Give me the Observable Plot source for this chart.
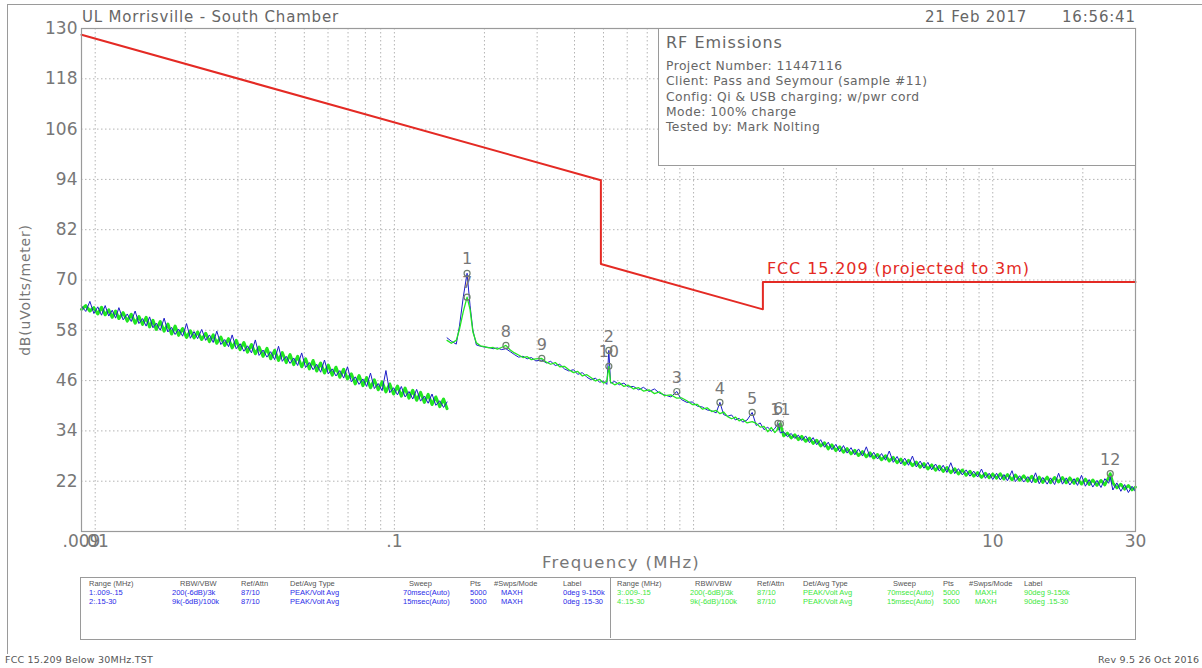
<!DOCTYPE html>
<html><head><meta charset="utf-8">
<script src="https://cdn.jsdelivr.net/npm/d3@7"></script>
<script src="https://cdn.jsdelivr.net/npm/@observablehq/plot@0.6"></script>
<style>
body{margin:0;background:#fff;}
#page{position:relative;width:1202px;height:668px;overflow:hidden;font-family:"DejaVu Sans",sans-serif;color:#666;background:#fff;}
.abs{position:absolute;white-space:nowrap;}
#chart{position:absolute;left:0;top:0;}
.tcell{position:absolute;white-space:nowrap;font-family:"Liberation Sans",sans-serif;font-size:7.5px;line-height:9px;}
</style></head><body><div id="page"><div id="chart"></div></div>
<script>
// ---------- data ----------
const freq1 = [0.009,0.0093,0.0096,0.0099,0.0102,0.0105,0.0108,0.0111,0.0114,0.0117,
0.012,0.0124,0.0128,0.0132,0.0136,0.014,0.0144,0.0148,0.0152,0.0156,
0.016,0.0165,0.017,0.0175,0.018,0.0185,0.019,0.0196,0.0202,0.0208,
0.0214,0.022,0.0227,0.0234,0.0241,0.0248,0.0255,0.0263,0.0271,0.0279,
0.0287,0.0296,0.0305,0.0314,0.0323,0.0333,0.0343,0.0353,0.0364,0.0375,
0.0386,0.0398,0.041,0.0422,0.0435,0.0448,0.0461,0.0475,0.049,0.0505,
0.052,0.0535,0.055,0.0567,0.0584,0.0601,0.062,0.0638,0.0657,0.0677,
0.0697,0.0718,0.074,0.0762,0.0785,0.0808,0.0832,0.0857,0.0883,0.091,
0.0937,0.0965,0.0994,0.1024,0.1055,0.1086,0.1119,0.1152,0.1187,0.1223,
0.126,0.1297,0.1336,0.1376,0.1418,0.146,0.15];
const blue1 = [63.8,62.5,64.9,62.0,63.6,61.6,63.9,61.4,62.8,60.9,
63.4,60.5,61.9,60.1,62.6,59.6,60.8,59.0,61.2,58.6,
59.7,58.0,60.9,57.6,58.7,57.0,58.3,56.6,59.6,56.1,
57.7,56.0,58.2,55.6,56.9,55.1,57.8,54.6,55.8,54.1,
56.9,53.6,54.8,53.0,54.3,52.6,55.7,52.0,53.3,51.6,
52.9,51.0,54.2,50.6,51.8,50.1,51.4,49.6,52.6,49.1,
50.3,48.6,49.9,48.0,50.9,47.6,48.8,47.1,48.4,46.6,
49.3,45.7,46.9,45.1,46.4,44.6,47.8,44.1,45.3,43.6,
48.4,43.1,44.3,42.6,44.6,42.1,43.4,41.6,43.9,41.1,
42.3,40.6,42.8,40.1,41.2,39.6,40.9];
const green1 = [63.0,63.9,62.6,63.4,61.9,63.5,61.7,62.9,61.1,62.6,
60.8,62.2,60.2,61.8,59.7,61.3,59.4,61.1,58.8,60.4,
58.2,60.1,57.8,59.5,57.1,59.0,56.8,58.4,56.3,57.9,
56.2,57.6,55.8,57.3,55.3,56.9,54.9,56.4,54.4,56.0,
53.8,55.6,53.4,55.1,52.8,54.6,52.4,54.0,51.8,53.7,
51.2,53.2,50.8,52.7,50.3,52.2,49.8,51.8,49.3,51.2,
48.8,50.8,48.3,50.2,47.8,49.7,47.3,49.2,46.8,48.7,
46.4,47.6,45.2,47.2,44.8,46.7,44.3,46.2,43.8,45.7,
43.3,45.2,42.8,44.7,42.3,44.2,41.8,43.7,41.3,43.2,
40.8,42.7,40.3,42.1,39.8,41.6,39.3];

const freq2 = [0.15,0.155,0.161,0.165,0.17,0.175,0.179,0.183,0.188,0.194,
0.2,0.207,0.214,0.221,0.228,0.236,0.244,0.252,0.26,0.269,
0.278,0.287,0.297,0.311,0.322,0.333,0.345,0.357,0.37,0.383,
0.397,0.41,0.425,0.44,0.455,0.47,0.485,0.5,0.513,0.521,
0.528,0.545,0.565,0.585,0.605,0.63,0.655,0.68,0.71,0.74,
0.77,0.8,0.84,0.879,0.91,0.95,0.99,1.03,1.07,1.11,
1.15,1.19,1.225,1.26,1.3,1.34,1.38,1.42,1.46,1.51,
1.57,1.62,1.67,1.72,1.77,1.82,1.87,1.915,1.95,2.0,
2.06,2.12,2.18,2.24,2.3,2.37,2.44,2.51,2.58,2.66,
2.74,2.82,2.9,2.99,3.08,3.17,3.26,3.36,3.46,3.56,
3.67,3.78,3.89,4.0,4.12,4.25,4.38,4.51,4.65,4.79,
4.93,5.08,5.23,5.39,5.55,5.72,5.89,6.07,6.25,6.44,
6.63,6.83,7.03,7.24,7.46,7.68,7.91,8.15,8.39,8.64,
8.9,9.17,9.45,9.73,10.0,10.3,10.6,10.9,11.2,11.6,
11.9,12.3,12.7,13.1,13.5,13.9,14.3,14.7,15.2,15.6,
16.1,16.6,17.1,17.6,18.1,18.7,19.2,19.8,20.4,21.0,
21.6,22.3,23.0,23.7,24.4,24.7,25.2,26.0,26.8,27.6,
28.4,29.2,30.0];
const blue2 = [56.2,55.4,54.7,59.0,66.0,71.6,64.0,58.0,54.5,54.2,
54.0,53.9,53.6,53.8,53.4,53.6,52.9,52.2,51.6,51.8,
51.2,51.5,50.7,50.9,50.2,50.6,49.6,49.9,48.8,48.3,
48.6,47.5,47.9,46.8,46.2,46.6,45.6,45.9,45.1,53.2,
45.4,45.8,45.0,45.4,44.5,44.6,43.8,44.4,43.4,44.0,
43.0,42.6,42.1,43.4,41.5,40.8,40.9,39.9,39.7,39.0,
38.8,38.3,40.8,37.9,37.5,37.8,36.6,37.0,36.1,36.6,
38.4,35.3,35.9,34.3,34.9,33.9,34.6,35.8,33.5,33.8,
32.6,33.4,32.2,33.0,31.7,32.8,31.2,32.4,30.7,31.9,
30.1,31.3,29.5,30.8,29.0,30.5,28.7,30.0,28.3,29.7,
28.0,30.2,27.7,28.9,27.3,28.6,27.0,29.2,26.5,27.9,
26.1,27.5,25.8,28.0,25.4,26.8,25.1,26.5,24.7,26.1,
24.4,25.8,24.1,26.4,23.8,25.0,23.5,24.7,23.2,24.4,
23.0,24.9,22.7,23.9,22.4,23.9,22.3,23.6,22.1,24.5,
21.9,23.3,21.8,23.1,21.6,24.0,21.4,22.9,21.3,22.8,
21.2,23.9,21.3,22.8,21.1,22.6,21.0,23.4,20.8,22.4,
20.6,22.2,20.5,22.6,21.5,23.0,19.9,21.6,19.6,21.2,
19.3,20.8,19.5];
const green2 = [55.6,54.9,55.6,58.2,62.5,65.9,63.0,57.6,55.0,54.3,
54.1,53.8,53.9,53.5,53.9,54.4,53.3,52.6,52.1,51.5,
51.7,51.0,51.2,51.3,50.4,49.9,50.3,49.3,49.4,48.6,
47.9,48.2,47.1,47.4,46.7,45.9,46.3,45.4,45.8,49.4,
45.6,45.0,45.5,44.6,44.9,44.0,44.3,43.5,43.8,42.9,
43.3,42.4,42.6,41.8,41.9,41.2,40.3,40.3,39.2,39.5,
38.6,38.9,38.1,38.5,37.4,36.9,37.3,36.4,36.8,35.9,
36.2,35.8,34.9,35.1,33.8,34.8,33.6,34.5,35.7,32.8,
33.5,32.3,33.1,31.9,32.7,31.5,32.3,31.0,31.8,30.4,
31.2,29.7,30.7,29.3,30.2,28.9,29.8,28.5,29.4,28.1,
29.1,27.8,28.8,27.5,28.4,27.1,28.1,26.8,27.7,26.4,
27.3,26.0,27.0,25.7,26.6,25.3,26.2,24.9,25.9,24.6,
25.6,24.3,25.3,24.0,25.0,23.7,24.7,23.4,24.4,23.2,
24.1,22.9,23.9,22.8,23.7,22.7,23.8,22.5,23.6,22.3,
23.5,22.2,23.3,22.0,23.2,21.9,23.0,21.7,23.0,21.6,
22.9,21.8,22.9,21.6,22.8,21.5,22.6,21.3,22.5,21.2,
22.3,21.0,22.2,21.1,22.9,23.8,21.6,20.4,21.3,20.1,
21.0,19.9,20.6];

const limitFreq = [0.009, 0.49, 0.49, 1.705, 1.705, 30];
const limitDb   = [128.5, 93.8, 73.8, 63.0, 69.5, 69.5];
const limitLabel = "FCC 15.209 (projected to 3m)";

const markerIds  = ["1","2","3","4","5","6","7","8","9","10","11","12"];
const markerFreq = [0.175,0.521,0.879,1.225,1.57,1.915,0.175,0.236,0.311,0.521,1.95,24.7];
const markerDb   = [71.6,53.2,43.4,40.8,38.4,35.8,65.9,54.4,51.3,49.4,35.7,23.8];

const yTicks = [22,34,46,58,70,82,94,106,118,130];
const yGrid = [22,34,46,58,70,82,94,106,118];
const xTickValues = [0.009,0.01,0.1,10,30];
const xTickLabels = [".009",".01",".1","10","30"];
const xGrid = [0.01,0.02,0.03,0.04,0.05,0.06,0.07,0.08,0.09,0.1,0.2,0.3,0.4,0.5,0.6,0.7,0.8,0.9,1,2,3,4,5,6,7,8,9,10,20];

const headerLeft = "UL Morrisville - South Chamber";
const headerDate = "21 Feb 2017";
const headerTime = "16:56:41";
const infoTitle = "RF Emissions";
const infoLines = ["Project Number: 11447116","Client: Pass and Seymour (sample #11)","Config: Qi & USB charging; w/pwr cord","Mode: 100% charge","Tested by: Mark Nolting"];
const yTitle = "dB(uVolts/meter)";
const xTitle = "Frequency (MHz)";
const footLeft = "FCC 15.209 Below 30MHz.TST";
const footRight = "Rev 9.5 26 Oct 2016";
const tableHead = ["Range (MHz)","RBW/VBW","Ref/Attn","Det/Avg Type","Sweep","Pts","#Swps/Mode","Label"];
const tableRowsLeft = [
 ["1:.009-.15","200(-6dB)/3k","87/10","PEAK/Volt Avg","70msec(Auto)","5000","MAXH","0deg 9-150k"],
 ["2:.15-30","9k(-6dB)/100k","87/10","PEAK/Volt Avg","15msec(Auto)","5000","MAXH","0deg .15-30"]];
const tableRowsRight = [
 ["3:.009-.15","200(-6dB)/3k","87/10","PEAK/Volt Avg","70msec(Auto)","5000","MAXH","90deg 9-150k"],
 ["4:.15-30","9k(-6dB)/100k","87/10","PEAK/Volt Avg","15msec(Auto)","5000","MAXH","90deg .15-30"]];

// ---------- build ----------
const mk = (fs, vs) => fs.map((f, i) => ({f, db: vs[i]})).filter(d => d.db != null);
const SPLIT = 77; // sweep 2 index where the trace widens into a noise band
const blueA = mk(freq1, blue1), blueB = mk(freq2, blue2);
const greenA = mk(freq1, green1), greenAll2 = mk(freq2, green2);
const greenB = greenAll2.slice(0, SPLIT + 1), greenC = greenAll2.slice(SPLIT);
const limitData = limitFreq.map((f, i) => ({f, db: limitDb[i]}));
const markers = markerIds.map((id, i) => ({id, f: markerFreq[i], db: markerDb[i]}));
const xTicks = xTickValues.map((v, i) => ({v, label: xTickLabels[i]}));

const BLUE = "#1c1cc8", GREEN = "#22e622", RED = "#e42a24", GRID = "#b4b4b4";

const svg = Plot.plot({
  width: 1202, height: 575,
  marginLeft: 81, marginRight: 67, marginTop: 28, marginBottom: 44,
  style: {fontFamily: "DejaVu Sans, sans-serif", fontSize: "17px", color: "#777", background: "transparent", overflow: "visible"},
  x: {type: "log", domain: [0.009, 30], axis: null},
  y: {domain: [10, 130], ticks: yTicks, tickSize: 0, tickPadding: 4, label: null},
  marks: [
    Plot.ruleY(yGrid, {stroke: GRID, strokeDasharray: "1.5,2.5", strokeWidth: 1}),
    Plot.ruleX(xGrid, {stroke: GRID, strokeDasharray: "1.5,2.5", strokeWidth: 1}),
    Plot.text(xTicks, {x: "v", text: "label", frameAnchor: "bottom", dy: 15, fill: "#777", fontSize: 17}),
    Plot.line(limitData, {x: "f", y: "db", stroke: RED, strokeWidth: 2}),
    Plot.text([limitData[3]], {x: "f", y: d => limitDb[4], text: () => limitLabel, textAnchor: "start", dx: 4, dy: -13, fill: RED, fontSize: 16}),
    Plot.line(greenA, {x: "f", y: "db", stroke: GREEN, strokeWidth: 3}),
    Plot.line(greenC, {x: "f", y: "db", stroke: GREEN, strokeWidth: 2.8}),
    Plot.line(blueA, {x: "f", y: "db", stroke: BLUE, strokeWidth: 1}),
    Plot.line(blueB, {x: "f", y: "db", stroke: BLUE, strokeWidth: 1}),
    Plot.line(greenB, {x: "f", y: "db", stroke: GREEN, strokeWidth: 1.3}),
    Plot.dot(markers, {x: "f", y: "db", r: 3, stroke: "#6f7f6f", strokeWidth: 1.2, fill: "none"}),
    Plot.text(markers, {x: "f", y: "db", text: "id", dy: -14, fill: "#777", fontSize: 16}),
    Plot.frame({stroke: "#9a9a9a", strokeWidth: 1.2})
  ]
});
d3.select(svg).selectAll("text").filter(function(){ return this.textContent.startsWith("FCC"); }).attr("letter-spacing", "0.9");
document.getElementById("chart").appendChild(svg);

// ---------- overlays ----------
const page = document.getElementById("page");
function add(text, css) {
  const el = document.createElement("div");
  el.className = "abs";
  el.textContent = text;
  Object.assign(el.style, css);
  page.appendChild(el);
  return el;
}
const fr = document.createElement("div");
Object.assign(fr.style, {position: "absolute", left: "7px", top: "4px", width: "1300px", height: "649px", borderLeft: "1px solid #9a9a9a", borderTop: "1px solid #9a9a9a"});
page.appendChild(fr);

add(headerLeft, {left: "82px", top: "8px", fontSize: "15px", letterSpacing: "0.8px", color: "#666"});
add(headerDate, {left: "925px", top: "8px", fontSize: "15px", letterSpacing: "0.8px", color: "#666"});
add(headerTime, {left: "1062px", top: "8px", fontSize: "15px", letterSpacing: "0.8px", color: "#666"});

const box = document.createElement("div");
Object.assign(box.style, {position: "absolute", left: "658px", top: "28px", width: "476px", height: "136px", border: "1px solid #9a9a9a", background: "#fff"});
page.appendChild(box);
add(infoTitle, {left: "666px", top: "33px", fontSize: "16px", letterSpacing: "1px", color: "#666"});
infoLines.forEach((t, i) => add(t, {left: "666px", top: (59 + i * 15.3) + "px", fontSize: "12.3px", letterSpacing: "0.45px", color: "#666"}));

add(yTitle, {left: "25px", top: "290px", fontSize: "14px", letterSpacing: "0.8px", color: "#777", transform: "translate(-50%,-50%) rotate(-90deg)"});
add(xTitle, {left: "621px", top: "562px", fontSize: "16.5px", letterSpacing: "1.3px", color: "#777", transform: "translate(-50%,-50%)"});

const tbl = document.createElement("div");
Object.assign(tbl.style, {position: "absolute", left: "80px", top: "577px", width: "1054px", height: "61px", border: "1px solid #9a9a9a", background: "#fff"});
page.appendChild(tbl);
function panel(left, width, headX, valX, rows, color) {
  const p = document.createElement("div");
  Object.assign(p.style, {position: "absolute", left: left + "px", top: "578px", width: width + "px", height: "60px", overflow: "hidden"});
  page.appendChild(p);
  const cell = (t, x, y, c) => {
    const e = document.createElement("div");
    e.className = "tcell"; e.textContent = t;
    Object.assign(e.style, {left: x + "px", top: y + "px", color: c});
    p.appendChild(e);
  };
  tableHead.forEach((t, i) => cell(t, headX[i], 1, "#555"));
  rows.forEach((r, j) => r.forEach((t, i) => cell(t, valX[i], 10 + j * 9, color)));
}
panel(81, 529, [8, 99, 160, 209, 328, 389, 413, 482], [8, 91, 160, 209, 322, 389, 420, 482], tableRowsLeft, "#2b2be8");
panel(611, 523, [6, 84, 146, 192, 282, 332, 358, 413], [6, 79, 146, 192, 276, 332, 364, 413], tableRowsRight, "#3de83d");
const dv = document.createElement("div");
Object.assign(dv.style, {position: "absolute", left: "610px", top: "578px", width: "1px", height: "60px", background: "#9a9a9a"});
page.appendChild(dv);

add(footLeft, {left: "5px", top: "654px", fontSize: "9.5px", letterSpacing: "0.2px", color: "#555"});
add(footRight, {left: "1098px", top: "654px", fontSize: "9.5px", letterSpacing: "0.2px", color: "#555"});
</script>
</body></html>
